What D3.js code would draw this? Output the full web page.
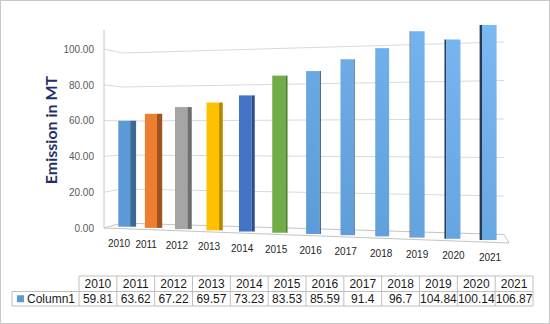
<!DOCTYPE html>
<html>
<head>
<meta charset="utf-8">
<script src="https://cdn.jsdelivr.net/npm/d3@7"></script>
<style>
  html, body { margin: 0; padding: 0; background: #fff; }
  svg { display: block; }
</style>
</head>
<body>
<svg id="chart" width="550" height="324"></svg>
<script>
// ---------------- data ----------------
const years = ["2010","2011","2012","2013","2014","2015","2016","2017","2018","2019","2020","2021"];
const values = [59.81, 63.62, 67.22, 69.57, 73.23, 83.53, 85.59, 91.4, 96.7, 104.84, 100.14, 106.87];
const tableValues = ["59.81","63.62","67.22","69.57","73.23","83.53","85.59","91.4","96.7","104.84","100.14","106.87"];
const yTicks = [0, 20, 40, 60, 80, 100];
const seriesName = "Column1";
const axisTitle = "Emission in MT";

// ---------------- styles ----------------
const frontColors = ["url(#blueGrad)","#ed7d31","#a5a5a5","#ffc000","#4472c4","#70ad47",
                     "url(#blueGrad)","url(#blueGrad)","url(#blueGrad)","url(#blueGrad)","url(#blueGrad)","url(#blueGrad)"];
const sideColors = ["#3d6a93","#a0531f","#6f6f6f","#b38700","#2e4e88","#4b7a2f",
                    "#2f5476","#2c4f70","#2a4b6b","#29486a","#273f5c","#233a55"];
const seriesColor = "#5b9bd5";

const svg = d3.select("#chart");
const n = years.length;

const defs = svg.append("defs");
const g1 = defs.append("linearGradient").attr("id", "blueGrad")
  .attr("gradientUnits", "userSpaceOnUse")
  .attr("x1", 300).attr("y1", 240).attr("x2", 500).attr("y2", 20);
g1.append("stop").attr("offset", "0%").attr("stop-color", "#5a9ad6");
g1.append("stop").attr("offset", "100%").attr("stop-color", "#7bbaf3");

// outer border
svg.append("rect").attr("x", 0.5).attr("y", 0.5).attr("width", 549).attr("height", 323)
  .attr("fill", "#fff").attr("stroke", "#c8c8c8");

// ---------------- perspective scales ----------------
const yFront = d3.scaleLinear().domain([0, 100]).range([228, 49]);
const yBackL = d3.scaleLinear().domain([0, 100]).range([223, 53]);
const yBackR = d3.scaleLinear().domain([0, 100]).range([234.5, 42]);
const wallX = { front: 104, backL: 122, backR: 504, floorR: 509 };
const floorFrontR = 243;

const barX = d3.scalePow().exponent(1.09).domain([0, n - 1]).range([124.2, 489.3]);
const barBase = d3.scaleLinear().domain([0, n - 1]).range([226.7, 240]);
const barK = d3.scaleLinear().domain([0, n - 1]).range([1.772, 2.012]);
const barW = d3.scaleLinear().domain([0, n - 1]).range([11.8, 14.6]);
const barSide = d3.scaleLinear().domain([0, n - 1]).range([6, -2.4]);
const labelX = d3.scalePow().exponent(1.09).domain([0, n - 1]).range([119, 490]);
const labelY = d3.scaleLinear().domain([0, n - 1]).range([243, 257]);
const barY = (i, v) => d3.scaleLinear().domain([0, 1]).range([barBase(i), barBase(i) - barK(i)])(v);

// ---------------- walls / floor ----------------
const grid = svg.append("g");
grid.selectAll("path.grid").data(yTicks.filter(d => d > 0)).join("path")
  .attr("class", "grid")
  .attr("d", v => `M${wallX.front},${yFront(v)}L${wallX.backL},${yBackL(v)}L${wallX.backR},${yBackR(v)}`)
  .attr("fill", "none").attr("stroke", "#d9d9d9").attr("stroke-width", 1);

grid.append("path")
  .attr("d", `M${wallX.front},${yFront(0)}L${wallX.backL},${yBackL(0)}L${wallX.backR},${yBackR(0)}L${wallX.floorR},${floorFrontR}Z`)
  .attr("fill", "#fdfdfd").attr("stroke", "#c4c4c4").attr("stroke-width", 1);

const axisTop = 110.6;
svg.append("line")
  .attr("x1", wallX.front).attr("x2", wallX.front)
  .attr("y1", yFront(0)).attr("y2", yFront(axisTop))
  .attr("stroke", "#c4c4c4").attr("stroke-width", 1);

const yAxis = d3.axisLeft(yFront).tickValues(yTicks).tickFormat(d3.format(".2f")).tickSize(0).tickPadding(10);
const ya = svg.append("g").attr("transform", `translate(${wallX.front},0)`).call(yAxis);
ya.select(".domain").remove();
ya.selectAll("text").attr("font-family", "Liberation Sans, Arial, sans-serif")
  .attr("font-size", "10px").attr("fill", "#595959");

svg.append("text")
  .attr("transform", "translate(50,130) rotate(-90)")
  .attr("text-anchor", "middle").attr("dominant-baseline", "central")
  .attr("font-family", "Lato, Liberation Sans, Arial, sans-serif")
  .attr("font-weight", "bold").attr("font-size", "16px").attr("fill", "#1f3068")
  .text(axisTitle);

// ---------------- bars ----------------
const bars = svg.append("g").selectAll("g.bar").data(values).join("g").attr("class", "bar");
bars.append("path")
  .attr("d", (v, i) => {
    const s = barSide(i), w = barW(i), xc = barX(i);
    const xe = s >= 0 ? xc + w / 2 : xc - w / 2;
    const top = barY(i, v), bot = barY(i, 0);
    return `M${xe},${top}L${xe + s},${top}L${xe + s},${bot}L${xe},${bot}Z`;
  })
  .attr("fill", (v, i) => sideColors[i]);
bars.append("rect")
  .attr("x", (v, i) => barX(i) - barW(i) / 2)
  .attr("width", (v, i) => barW(i))
  .attr("y", (v, i) => barY(i, v))
  .attr("height", (v, i) => barY(i, 0) - barY(i, v))
  .attr("fill", (v, i) => frontColors[i]);

svg.append("g").selectAll("text").data(years).join("text")
  .attr("x", (d, i) => labelX(i)).attr("y", (d, i) => labelY(i))
  .attr("text-anchor", "middle").attr("dominant-baseline", "central")
  .attr("font-family", "Liberation Sans, Arial, sans-serif")
  .attr("font-size", "10px").attr("fill", "#262626")
  .text(d => d);

// ---------------- data table ----------------
const tblX = d3.scaleBand().domain(years).range([79, 533]);
const rowY = [276, 291.5, 306];
const legendX0 = 12;
const tbl = svg.append("g");
const lineColor = "#bfbfbf";
tbl.append("line").attr("x1", tblX.range()[0]).attr("x2", tblX.range()[1]).attr("y1", rowY[0]).attr("y2", rowY[0]).attr("stroke", lineColor);
tbl.append("line").attr("x1", legendX0).attr("x2", tblX.range()[1]).attr("y1", rowY[1]).attr("y2", rowY[1]).attr("stroke", lineColor);
tbl.append("line").attr("x1", legendX0).attr("x2", tblX.range()[1]).attr("y1", rowY[2]).attr("y2", rowY[2]).attr("stroke", lineColor);
tbl.append("line").attr("x1", legendX0).attr("x2", legendX0).attr("y1", rowY[1]).attr("y2", rowY[2]).attr("stroke", lineColor);
tbl.selectAll("line.v").data(years.concat(["end"])).join("line").attr("class", "v")
  .attr("x1", (d, i) => i < n ? tblX(d) : tblX.range()[1])
  .attr("x2", (d, i) => i < n ? tblX(d) : tblX.range()[1])
  .attr("y1", rowY[0]).attr("y2", rowY[2]).attr("stroke", lineColor);
tbl.selectAll("text.h").data(years).join("text").attr("class", "h")
  .attr("x", d => tblX(d) + tblX.bandwidth() / 2).attr("y", (rowY[0] + rowY[1]) / 2)
  .attr("text-anchor", "middle").attr("dominant-baseline", "central")
  .attr("font-family", "Liberation Sans, Arial, sans-serif").attr("font-size", "12px").attr("fill", "#1a1a1a")
  .text(d => d);
tbl.selectAll("text.v").data(tableValues).join("text").attr("class", "v")
  .attr("x", (d, i) => tblX(years[i]) + tblX.bandwidth() / 2).attr("y", (rowY[1] + rowY[2]) / 2)
  .attr("text-anchor", "middle").attr("dominant-baseline", "central")
  .attr("font-family", "Liberation Sans, Arial, sans-serif").attr("font-size", "12px").attr("fill", "#1a1a1a")
  .text(d => d);
tbl.append("rect").attr("x", 17).attr("y", (rowY[1] + rowY[2]) / 2 - 3.5).attr("width", 7).attr("height", 7).attr("fill", seriesColor);
tbl.append("text").attr("x", 27).attr("y", (rowY[1] + rowY[2]) / 2)
  .attr("dominant-baseline", "central")
  .attr("font-family", "Liberation Sans, Arial, sans-serif").attr("font-size", "12px").attr("fill", "#1a1a1a")
  .text(seriesName);
</script>
</body>
</html>
